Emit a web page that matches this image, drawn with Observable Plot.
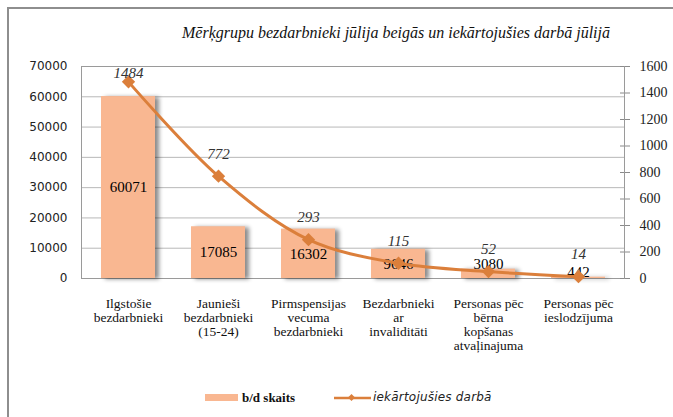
<!DOCTYPE html>
<html><head><meta charset="utf-8">
<script src="https://cdn.jsdelivr.net/npm/d3@7"></script>
<script src="https://cdn.jsdelivr.net/npm/@observablehq/plot@0.6"></script>
<style>
body{margin:0;background:#fff;}
#wrap{position:relative;width:673px;height:417px;overflow:hidden;background:#fff;}
#border{position:absolute;left:7px;top:7px;width:720px;height:460px;border-left:2px solid #8e8e8e;border-top:2px solid #8e8e8e;}
#title{position:absolute;left:396px;top:24px;transform:translateX(-50%);white-space:nowrap;font-style:italic;font-size:16px;font-family:"Liberation Serif",serif;color:#111;}
#chart{position:absolute;left:0;top:0;}
#legend{position:absolute;left:0;top:389px;width:673px;height:20px;}
.lg{position:absolute;top:0;white-space:nowrap;}
</style></head>
<body>
<div id="wrap">
<div id="border"></div>
<div id="chart"></div>
<div id="title">Mērķgrupu bezdarbnieki jūlija beigās un iekārtojušies darbā jūlijā</div>
<div id="legend">
  <svg class="lg" style="left:205px;top:5px" width="34" height="8"><rect x="0" y="0" width="33" height="7" fill="#F9B791"/></svg>
  <div class="lg" style="left:242px;top:1px;font-weight:bold;font-size:13px;font-family:'Liberation Serif',serif;color:#111;">b/d skaits</div>
  <svg class="lg" style="left:334px;top:2px" width="38" height="14"><line x1="0" y1="7" x2="37" y2="7" stroke="#DB7F3B" stroke-width="2.5"/><rect x="15" y="4" width="5" height="5" transform="rotate(45 17.5 6.5)" fill="#DB7F3B"/></svg>
  <div class="lg" style="left:373px;top:1px;font-style:italic;font-size:12px;font-family:'DejaVu Sans',sans-serif;color:#222;letter-spacing:0.2px;">iekārtojušies darbā</div>
</div>
</div>
<script>
const categories = [
  "Ilgstošie\nbezdarbnieki",
  "Jaunieši\nbezdarbnieki\n(15-24)",
  "Pirmspensijas\nvecuma\nbezdarbnieki",
  "Bezdarbnieki\nar\ninvaliditāti",
  "Personas pēc\nbērna\nkopšanas\natvaļinajuma",
  "Personas pēc\nieslodzījuma"
];
const bdSkaits = [60071, 17085, 16302, 9646, 3080, 442];
const iekartojusies = [1484, 772, 293, 115, 52, 14];
const leftTicks = [0, 10000, 20000, 30000, 40000, 50000, 60000, 70000];
const rightTicks = [0, 200, 400, 600, 800, 1000, 1200, 1400, 1600];

const K = 70000 / 1600;
const data = categories.map((c, i) => ({c, bd: bdSkaits[i], ie: iekartojusies[i]}));
const orange = "#DB7F3B";
const serif = "Liberation Serif";

const chart = Plot.plot({
  width: 673, height: 417,
  marginLeft: 81, marginRight: 49, marginTop: 66, marginBottom: 139,
  style: {fontFamily: serif},
  x: {domain: categories, paddingInner: 0.4, paddingOuter: 0.2},
  y: {domain: [0, 70000]},
  marks: [
    Plot.gridY(leftTicks, {stroke: "#b8b8b8", strokeOpacity: 1}),
    Plot.frame({stroke: "#9a9a9a"}),
    Plot.barY(data, {x: "c", y: "bd", fill: "#F9B791", imageFilter: "drop-shadow(4px 1px 2px rgba(0,0,0,0.45))"}),
    Plot.text(data.filter(d => d.bd >= 5000), {x: "c", y: d => d.bd / 2, text: d => String(d.bd), fontSize: 15, fontFamily: serif, fill: "#000"}),
    Plot.text(data.filter(d => d.bd < 5000), {x: "c", y: "bd", text: d => String(d.bd), fontSize: 15, fontFamily: serif, fill: "#000", lineAnchor: "bottom", dy: 0}),
    Plot.line(data, {x: "c", y: d => d.ie * K, stroke: orange, strokeWidth: 3, curve: "catmull-rom"}),
    Plot.dot(data, {x: "c", y: d => d.ie * K, symbol: "diamond2", r: 6, fill: orange, stroke: null}),
    Plot.text(data.filter(d => d.ie * K > 60000), {x: "c", y: d => d.ie * K, text: d => String(d.ie), dy: -9, fontSize: 15, fontStyle: "italic", fontFamily: serif, fill: "#333"}),
    Plot.text(data.filter(d => d.ie * K <= 60000), {x: "c", y: d => d.ie * K, text: d => String(d.ie), dy: -22, fontSize: 15, fontStyle: "italic", fontFamily: serif, fill: "#333"}),
    Plot.axisY(leftTicks, {anchor: "left", tickSize: 0, tickPadding: 14, fontSize: 12, fontFamily: "DejaVu Sans", fill: "#222", label: null, tickFormat: d => String(d)}),
    Plot.tickY(rightTicks.map(t => t * K), {y: d => d, insetLeft: 539, stroke: "#8a8a8a"}),
    Plot.axisY(rightTicks.map(t => t * K), {anchor: "right", tickSize: 5, tickPadding: 10, stroke: "#8a8a8a", fontSize: 14, fontFamily: serif, fill: "#222", tickFormat: d => String(Math.round(d / K)), label: null}),
    Plot.axisX({tickSize: 0, tickPadding: 19, fontSize: 13.5, fontFamily: serif, fill: "#111", lineHeight: 1.05, label: null, tickFormat: d => d})
  ]
});
document.getElementById("chart").appendChild(chart);
</script>
</body></html>
